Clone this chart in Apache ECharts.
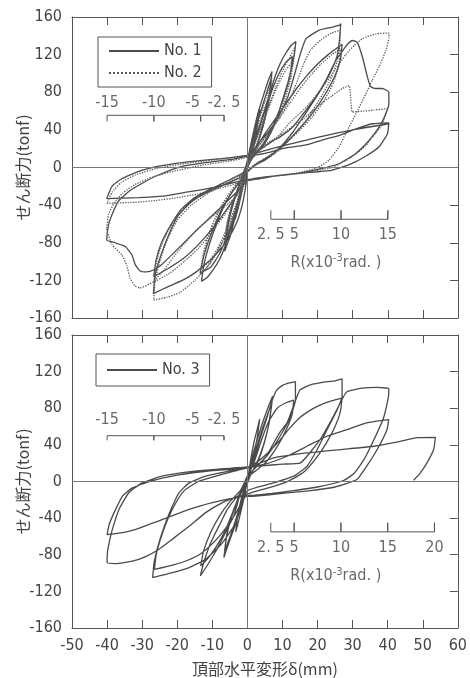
<!DOCTYPE html>
<html><head><meta charset="utf-8">
<script src="https://cdn.jsdelivr.net/npm/echarts/dist/echarts.min.js"></script>
<style>html,body{margin:0;padding:0;background:#fff}#c{width:470px;height:678px}</style>
</head><body><div id="c"></div>
<script>
// ---- data (x: 頂部水平変形 δ mm, y: せん断力 tonf) ----
const no1 = [
[0,0],[1,20],[2,40],[3,55],[3.5,62],[3,48],[2,30],[1,15],[0,2],[-1,-15],[-2,-32],[-3,-48],[-3.5,-55],[-3,-42],[-2,-25],[-1,-8],[0,8],
[1,25],[2,42],[3,58],[4,70],[5,82],[6,93],[7,102],[6.5,85],[5.5,62],[4,40],[2.5,22],[1,10],[0,0],[-1,-14],[-2,-30],[-3,-45],[-4,-60],[-5,-74],[-6.5,-89],[-6,-72],[-5,-52],[-3.5,-32],[-2,-16],[-1,-4],[0,6],
[1,18],[2,35],[3,50],[4.5,68],[5.5,80],[6.8,95],[6.2,75],[5,52],[3.5,32],[2,18],[0.5,8],[-0.5,-5],[-1.5,-20],[-3,-40],[-4.5,-60],[-5.5,-72],[-6.4,-84],[-5.8,-64],[-4.5,-42],[-3,-25],[-1.5,-10],[0,4],
[1,18],[2,30],[3.5,45],[5,62],[6.5,80],[8,98],[9.5,112],[11,122],[12.5,130],[13.8,134],[13.4,121],[12.5,105],[11.5,90],[10,72],[8.5,54],[7,40],[5,26],[3,17],[1,10],[0,4],
[-1,-12],[-2,-28],[-3.5,-50],[-5,-68],[-6.5,-85],[-8,-98],[-10,-110],[-11.5,-117],[-13.1,-121],[-12.5,-105],[-11.5,-90],[-10,-72],[-8,-52],[-6,-36],[-4,-24],[-2,-14],[-0.5,-4],[0.5,6],
[1.5,20],[3,38],[5,60],[7,82],[9,100],[11,112],[12.8,118],[12.3,102],[11,82],[9,60],[7,42],[5,28],[3,18],[1,8],[0,0],[-1,-15],[-2.5,-35],[-4,-55],[-6,-75],[-8,-92],[-10.5,-106],[-13.5,-112],[-12.5,-95],[-11,-77],[-9,-58],[-7,-42],[-4.5,-27],[-2,-14],[0,2],
[1,14],[3,25],[6,38],[9,55],[11.5,75],[13.5,100],[15,120],[16.7,137],[20.5,146],[24,149],[26.1,151],[26.6,153],[26.2,135],[25.5,118],[23.5,100],[20.5,80],[17,60],[13,38],[9,20],[5,8],[2,2],[0,-5],
[-0.5,-20],[-1.5,-40],[-3,-58],[-5.5,-76],[-8,-88],[-10.2,-97],[-13,-106],[-15,-112],[-18,-119],[-21.6,-125],[-24.5,-130],[-26.8,-134],[-26.3,-114],[-24.9,-96],[-22.5,-72],[-19.7,-51],[-15.9,-36],[-10.2,-24],[-4.6,-15],[-0.8,-8],[0.5,5],[1.5,14],
[3,24],[5,36],[8,52],[11,68],[14,84],[17,98],[20,110],[23,120],[25.5,127],[27,131],[26.5,115],[25,98],[22.5,80],[19,60],[15,42],[11,26],[7,14],[3,5],[0,-4],[-1,-14],[-3,-28],[-6,-45],[-10,-65],[-14,-82],[-18,-96],[-22,-106],[-26.7,-116],[-26,-98],[-24.5,-80],[-22,-62],[-19,-45],[-15,-32],[-10,-22],[-5,-13],[-1,-5],[0.5,6],[1.5,14],
[4,20],[7,28],[9.1,32],[12.9,43],[16.7,61],[19.5,75],[22.4,93],[25.2,114],[27.1,124],[28.5,131],[29.9,135],[31.3,133],[32.8,117],[34.2,96],[35.1,86],[36.5,84],[38.4,84],[40.3,80],
[40.3,68],[39.4,57],[37.5,43],[34.7,29],[30.9,15],[26.1,4],[20,-2],[14.8,-6],[8,-9],[3.4,-12],[0,-14],
[-1,-18],[-2.7,-25],[-5,-33],[-8.3,-45],[-14,-65],[-19.7,-86],[-24.4,-103],[-26.8,-109],[-28.7,-111],[-30.6,-110],[-32,-103],[-32.9,-93],[-34.8,-84],[-37.7,-80],[-40.1,-77],
[-39.6,-61],[-38.7,-51],[-36.8,-36],[-34,-26],[-30.1,-17],[-25.4,-8],[-18.8,1],[-10.2,6],[-4,9],[0,12],
[5,15],[10,20],[16.7,24],[22,30],[26.1,34],[30.9,41],[35.6,46.5],[40.3,47.5],[39.9,36],[37.5,22],[33.7,12],[29,3],[24,-3],[15,-6],[8,-9],[3,-11],[0,-13],
[-2.7,-15],[-7,-19],[-12.1,-23],[-17,-26],[-21.6,-29],[-26,-31],[-31,-32],[-40.1,-33],[-38.6,-20],[-35.8,-12],[-31,-4],[-24.4,2],[-16.9,6],[-7.4,9.5],[0,13],
[5,18],[10,23],[20,32],[30,40],[40.3,46.5]
];
const no2 = [
[0,0],[1,22],[2,42],[3.2,58],[2.5,40],[1.5,22],[0.5,8],[-0.5,-8],[-1.5,-25],[-2.5,-42],[-3.3,-52],[-2.5,-35],[-1.5,-18],[-0.5,-3],[0.5,10],
[1.5,25],[3,45],[4.5,65],[6,82],[7,95],[6.3,75],[5,52],[3.5,32],[2,18],[0.5,6],[-0.5,-8],[-2,-28],[-3.5,-48],[-5,-65],[-6.6,-82],[-6,-64],[-4.8,-45],[-3.2,-28],[-1.5,-12],[0,2],
[1.5,20],[3,38],[4.5,58],[6,76],[6.8,88],[6,68],[4.5,45],[3,27],[1.5,14],[0,2],[-1,-12],[-2.5,-32],[-4,-52],[-5.5,-68],[-6.5,-78],[-5.8,-58],[-4.3,-38],[-2.5,-20],[-1,-6],[0.5,6],
[2,25],[4,45],[6,65],[8,85],[10,103],[12,117],[13.5,128],[13,110],[11.5,88],[9.5,64],[7.5,44],[5,27],[3,16],[1,8],[-0.5,-4],[-1.5,-18],[-3,-38],[-5,-60],[-7,-78],[-9,-92],[-11,-104],[-13.5,-114],[-12.8,-97],[-11.5,-78],[-9.5,-57],[-7,-38],[-4.5,-24],[-2,-12],[0,2],
[2,24],[4,44],[6.5,68],[9,90],[11,104],[13,113],[12.4,96],[11,76],[9,55],[6.5,36],[4,22],[1.5,10],[0,0],[-1.5,-18],[-3.5,-42],[-6,-66],[-8.5,-86],[-11,-100],[-13.3,-108],[-12.5,-90],[-11,-70],[-8.5,-48],[-5.5,-30],[-2.5,-16],[0,2],
[3,22],[6,36],[9,52],[12,72],[14,90],[16,110],[18,125],[21,136],[24,143],[26.5,146],[26.3,130],[25.5,112],[23.5,92],[20.5,72],[17,52],[13,34],[9,18],[5,8],[2,2],[0,-4],
[-1,-16],[-2,-32],[-3.5,-50],[-6,-72],[-9,-92],[-12,-108],[-15,-120],[-19.3,-133],[-23,-138],[-26.7,-141],[-26.3,-120],[-25,-100],[-23,-78],[-20,-56],[-16,-40],[-11,-27],[-6,-17],[-2,-9],[0.5,4],[1.5,12],
[3,22],[6,36],[9,52],[12,68],[15,84],[18,98],[21,110],[24,120],[26.5,126],[26,108],[24.5,90],[22,72],[18.5,54],[14.5,38],[10,24],[6,12],[2,3],[0,-4],[-1.5,-16],[-3.5,-32],[-6.5,-50],[-10,-68],[-14,-86],[-18,-100],[-22,-112],[-26.7,-122],[-26,-102],[-24.5,-82],[-22,-63],[-19,-47],[-15,-34],[-10,-23],[-5,-13],[-1,-5],[0.5,6],[1.5,14],
[4,20],[8,30],[11.9,47],[16.7,64],[21.4,85],[25,104],[28,120],[30.5,130],[32.8,137],[36.6,142],[40.3,143],[40.3,138],[39.4,124],[37.5,107],[35.6,93],[33.7,78],[30.9,57],[28,36],[26.1,22],[23.3,8],[20,0],[14,-6],[8,-9],[3,-12],[0,-14],
[-1,-20],[-3,-30],[-6,-40],[-10,-52],[-15,-68],[-20,-90],[-24,-110],[-27,-122],[-30.7,-128],[-32,-126],[-33.4,-118],[-34.4,-104],[-35.8,-93],[-38.6,-82],[-40.1,-65],[-39.6,-50],[-38,-38],[-35.5,-27],[-32,-18],[-27,-10],[-20,-3],[-12,3],[-5,7],[0,11],
[4,22],[10,36],[16,52],[20,65],[24,76],[27,84],[29,87],[29.9,59],[33,60],[36,61],[39.8,62.6],[38.4,45],[35.5,32],[33.7,23],[29,9.5],[24,0],[16,-6],[8,-9],[2,-12],[0,-14],
[-3,-17],[-8,-22],[-14,-28],[-20,-32],[-26,-35],[-32,-37],[-40,-38],[-38.5,-26],[-36,-16],[-32,-8],[-26,-1],[-18,4],[-10,8],[-3,11],[0,13]
];
const no3 = [
[0,0],[1,25],[2,45],[3,60],[3.5,68],[2.8,48],[1.8,28],[0.8,12],[-0.3,-5],[-1.2,-22],[-2.3,-40],[-3.3,-55],[-2.8,-38],[-1.8,-20],[-0.8,-6],[0.3,8],
[1.5,28],[3,48],[4.5,66],[6,82],[7.2,93],[6.6,75],[5.5,52],[4,32],[2.5,18],[1,8],[-0.5,-8],[-2,-28],[-3.5,-48],[-5,-64],[-6.7,-83],[-6,-62],[-4.8,-42],[-3.2,-25],[-1.5,-10],[0,4],
[1.5,22],[3,42],[4.5,60],[6,76],[7,86],[6.3,66],[5,45],[3.5,28],[2,15],[0.5,5],[-1,-12],[-2.5,-32],[-4,-50],[-5.5,-66],[-6.5,-76],[-5.8,-56],[-4.5,-37],[-2.8,-20],[-1,-6],[0.5,8],
[2,25],[3.5,45],[5.6,70],[7,88],[8.4,100],[10,105],[11.3,107],[13.7,109],[13.7,89],[12.3,71],[9.4,50],[5.6,28],[1.8,13],[0,6],[-2,-13],[-3.9,-38],[-5.8,-52],[-7.7,-67],[-9.6,-80],[-11.5,-92],[-13.4,-103],[-12.5,-89],[-11,-72],[-9.6,-60],[-7.5,-44],[-5.8,-31],[-3.5,-19],[-2,-13],[0,4],
[2,22],[4,45],[6,65],[8.5,80],[11,86],[13.2,89],[12.8,74],[11,56],[8.5,38],[5.5,22],[2.5,12],[0,5],[-2,-12],[-4,-32],[-6.5,-55],[-9,-72],[-11.5,-85],[-13.3,-92],[-12.5,-76],[-10.5,-56],[-8,-38],[-5,-22],[-2,-10],[0,5],
[3,18],[5.5,28],[7.5,42],[9.5,55],[11.3,64],[13.1,82],[15,100],[18,105.6],[22.7,109],[25,110],[27,112],[27,93],[25.6,78.5],[22.7,56.6],[19.9,35],[17,16.7],[13.2,5.8],[7.5,-1.5],[3,-6],[0,-10],
[-1.4,-23],[-3.3,-45],[-7.1,-67],[-11.9,-85],[-16.6,-94],[-21.4,-99.6],[-27,-105],[-26.6,-88.6],[-25.2,-66.8],[-23.3,-45],[-21.4,-27],[-19.5,-12.3],[-16.6,-1.5],[-11.9,5.8],[-5.3,11.3],[0,15],
[3,22],[6,32],[9,44],[12,58],[15,70],[18,78],[21,84],[24,88],[27,91],[26.5,76],[25,60],[22.5,42],[19.5,25],[16,10],[12,1],[7,-6],[3,-10],[0,-14],[-1.5,-22],[-3.5,-36],[-6,-50],[-9,-64],[-13,-78],[-17,-86],[-21,-91],[-26.5,-96],[-26,-80],[-24.7,-62],[-22.8,-42],[-20.5,-24],[-18,-10],[-14,0],[-8,7],[-3,12],[0,15],
[4,17],[10,19],[15,20],[20.7,45.7],[24.5,71],[27.4,92.6],[28.4,98],[32.2,101.6],[37,102.7],[40.3,101.6],[40.3,96],[38.9,70.5],[36,45],[33.1,23],[30.3,8.4],[27.4,1.1],[20,-6],[13,-10],[7,-13],[2,-15],
[-2.4,-16],[-7.1,-23],[-11.9,-34],[-16.6,-49],[-21.4,-63],[-25.2,-74],[-29,-82],[-32.8,-87],[-37.5,-89.7],[-40,-88.6],[-39.9,-77.5],[-39.4,-66.8],[-38.5,-52.3],[-36.6,-30.5],[-33.8,-12.3],[-30,-1.5],[-24.3,5.8],[-18,10],[-10,13],[0,16],
[5,19],[11.3,27.6],[17,38.5],[22.7,49.4],[28.4,56.6],[34,64],[40.3,67.5],[39.8,56.6],[37,35],[34,16.7],[31.2,2.2],[25,-6],[18,-10],[10,-13],[2.4,-16],
[-2.4,-17],[-10,-23],[-16.6,-30.5],[-22.8,-39.4],[-30.4,-50.3],[-35.1,-55.6],[-40,-58],[-39.4,-47],[-38,-34],[-35.6,-16],[-32.8,-7],[-28,0],[-20,7],[-10,12],[0,15],
[7.5,25.8],[17,31.2],[26.5,34.9],[36,38.5],[43.6,43.9],[48.3,48],[53.6,48.3],[53.1,34.9],[51.2,20.3],[49.3,9.4],[47.4,1.4]
];
// 部材角 R (x10^-3 rad) scale ticks
const rTopNeg = [-15, -10, -5, -2.5];
const rTopPos = [2.5, 5, 10, 15];
const rBotNeg = [-15, -10, -5, -2.5];
const rBotPos = [2.5, 5, 10, 15, 20];
const seriesNames = ['No. 1', 'No. 2', 'No. 3'];

const R_MM = 8 / 3; // 1x10^-3 rad -> mm
const FONT = '"Liberation Sans Narrow","DejaVu Sans Condensed","Liberation Sans",sans-serif';
const JP = '"Noto Sans CJK JP",sans-serif';
const INK = '#4a4a4a';
const LABEL_SHIFT = {'-5': -8}; // pixel nudge for crowded scale labels

function bracket(ticks, yLine, yTick) {
  const xs = ticks.map(r => r * R_MM).sort((a, b) => a - b);
  const pts = [[xs[0], yTick], [xs[0], yLine]];
  for (let i = 1; i < xs.length; i++) pts.push([xs[i], yLine], [xs[i], yTick], [xs[i], yLine]);
  return pts;
}
function fmtR(r) { return String(r).replace('.', '. '); }
function labels(ticks, y) {
  return ticks.map(r => ({value: [r * R_MM, y, fmtR(r)],
    label: {offset: [LABEL_SHIFT[String(r)] || 0, 0]}}));
}

const chart = echarts.init(document.getElementById('c'), null, {renderer: 'canvas'});
const xBase = {min: -50, max: 60, interval: 10, splitLine: {show: false},
  axisLine: {onZero: false, lineStyle: {color: '#555', width: 1}},
  axisTick: {inside: true, length: 8, lineStyle: {color: '#555'}}};
const yBase = {min: -160, max: 160, interval: 40, splitLine: {show: false},
  axisLine: {onZero: false, lineStyle: {color: '#555', width: 1}}};
const labelStyle = {color: '#444', fontFamily: FONT, fontSize: 16};
const yName = 'せん断力(tonf)';
const zeroLines = {silent: true, symbol: 'none', label: {show: false},
  lineStyle: {color: '#777', width: 1, type: 'solid'}, data: [{xAxis: 0}, {yAxis: 0}]};
const bracketStyle = {type: 'line', symbol: 'none', silent: true, lineStyle: {color: '#555', width: 1}};
const textSeries = (xi, yi, data) => ({type: 'scatter', xAxisIndex: xi, yAxisIndex: yi, silent: true,
  symbolSize: 1, itemStyle: {color: 'transparent'}, data: data,
  label: {show: true, position: 'inside', formatter: p => p.value[2], color: '#444', fontFamily: FONT, fontSize: 16}});
const rNameRich = {a: {fontFamily: FONT, fontSize: 16, color: '#444'}, s: {fontFamily: FONT, fontSize: 11, color: '#444', verticalAlign: 'top', padding: [0, 0, 8, 0]}};
const rName = (xi, yi, x, y) => ({type: 'scatter', xAxisIndex: xi, yAxisIndex: yi, silent: true, symbolSize: 1,
  itemStyle: {color: 'transparent'}, data: [[x, y]],
  label: {show: true, position: 'inside', formatter: '{a|R(x10}{s|-3}{a|rad. )}', rich: rNameRich}});
const legendBase = {orient: 'vertical', borderColor: '#555', borderWidth: 1, itemWidth: 50, itemHeight: 14,
  textStyle: labelStyle, itemStyle: {color: 'transparent', borderWidth: 0, opacity: 0}};
const yNameOpts = {name: yName, nameLocation: 'middle', nameGap: 41, nameMoveOverlap: false,
  nameTextStyle: {fontFamily: JP, fontSize: 16, color: '#444'}};

chart.setOption({
  animation: false,
  backgroundColor: '#fff',
  grid: [{left: 72, top: 17, width: 386, height: 301}, {left: 72, top: 335, width: 386, height: 294}],
  legend: [
    Object.assign({}, legendBase, {data: ['No. 1', 'No. 2'], left: 98, top: 37, padding: [6, 10, 6, 10], itemGap: 6}),
    Object.assign({}, legendBase, {data: ['No. 3'], left: 96, top: 354, padding: [8, 10, 8, 10]})
  ],
  xAxis: [
    Object.assign({}, xBase, {gridIndex: 0, position: 'bottom', axisLabel: {show: false}}),
    Object.assign({}, xBase, {gridIndex: 0, position: 'top', axisLabel: {show: false}}),
    Object.assign({}, xBase, {gridIndex: 1, position: 'bottom', axisLabel: Object.assign({margin: 10}, labelStyle),
      name: '頂部水平変形δ(mm)', nameLocation: 'middle', nameGap: 33,
      nameTextStyle: {fontFamily: JP, fontSize: 16, color: '#444'}}),
    Object.assign({}, xBase, {gridIndex: 1, position: 'top', axisLabel: {show: false}})
  ],
  yAxis: [
    Object.assign({}, yBase, yNameOpts, {gridIndex: 0, position: 'left', axisTick: {show: false},
      axisLabel: Object.assign({margin: 10}, labelStyle)}),
    Object.assign({}, yBase, {gridIndex: 0, position: 'right', axisLabel: {show: false},
      axisTick: {inside: true, length: 8, lineStyle: {color: '#555'}}}),
    Object.assign({}, yBase, yNameOpts, {gridIndex: 1, position: 'left', axisTick: {show: false},
      axisLabel: Object.assign({margin: 10}, labelStyle)}),
    Object.assign({}, yBase, {gridIndex: 1, position: 'right', axisLabel: {show: false},
      axisTick: {inside: true, length: 8, lineStyle: {color: '#555'}}})
  ],
  series: [
    Object.assign({}, bracketStyle, {xAxisIndex: 0, yAxisIndex: 0, data: bracket(rTopNeg, 55.5, 49), markLine: zeroLines}),
    Object.assign({}, bracketStyle, {xAxisIndex: 0, yAxisIndex: 0, data: bracket(rTopPos, -55, -45.5)}),
    Object.assign({}, bracketStyle, {xAxisIndex: 2, yAxisIndex: 2, data: bracket(rBotNeg, 50, 45), markLine: zeroLines}),
    Object.assign({}, bracketStyle, {xAxisIndex: 2, yAxisIndex: 2, data: bracket(rBotPos, -55, -45)}),
    textSeries(0, 0, labels(rTopNeg, 69)),
    textSeries(0, 0, labels(rTopPos, -72)),
    textSeries(2, 2, labels(rBotNeg, 67.5)),
    textSeries(2, 2, labels(rBotPos, -73)),
    rName(0, 0, 25.2, -101),
    rName(2, 2, 25.2, -103),
    {name: seriesNames[0], type: 'line', xAxisIndex: 0, yAxisIndex: 0, data: no1, symbol: 'none', smooth: 0.15,
      lineStyle: {color: INK, width: 1.3}, itemStyle: {color: INK}},
    {name: seriesNames[1], type: 'line', xAxisIndex: 0, yAxisIndex: 0, data: no2, symbol: 'none', smooth: 0.15,
      lineStyle: {color: '#5a5a5a', width: 1.3, type: 'dotted'}, itemStyle: {color: '#5a5a5a'}},
    {name: seriesNames[2], type: 'line', xAxisIndex: 2, yAxisIndex: 2, data: no3, symbol: 'none', smooth: 0.15,
      lineStyle: {color: INK, width: 1.3}, itemStyle: {color: INK}}
  ]
});
</script></body></html>
